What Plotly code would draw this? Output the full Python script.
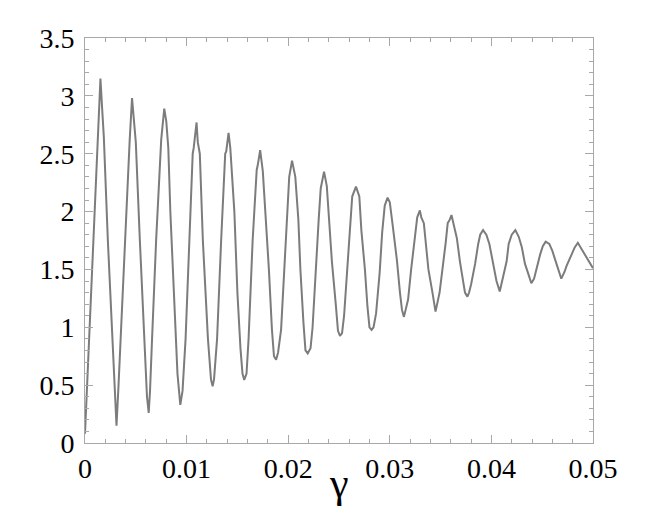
import plotly.graph_objects as go

gamma = [
    0.0, 0.0004, 0.0008, 0.0012, 0.00152,
    0.00168, 0.00185, 0.00225, 0.00268, 0.0029, 0.0031,
    0.0033, 0.0035, 0.0039, 0.0044, 0.00463,
    0.0048, 0.005, 0.0054, 0.0058, 0.0061, 0.00627,
    0.0064, 0.0066, 0.0070, 0.0075, 0.0078,
    0.0080, 0.0082, 0.0084, 0.0087, 0.0091, 0.00938,
    0.0096, 0.0099, 0.0103, 0.0106, 0.0107, 0.01098,
    0.0111, 0.0113, 0.0116, 0.0121, 0.0124, 0.01256,
    0.0127, 0.0130, 0.0134, 0.0138, 0.0139, 0.01413,
    0.0143, 0.0147, 0.0150, 0.0152, 0.0153, 0.0155, 0.01567,
    0.0159, 0.0161, 0.0165, 0.0169, 0.0170, 0.01724,
    0.0175, 0.0177, 0.0181, 0.0184, 0.0186, 0.01881,
    0.0190, 0.0193, 0.0196, 0.0199, 0.0201, 0.02038,
    0.0207, 0.0210, 0.0212, 0.0215, 0.0217, 0.02192,
    0.0222, 0.0224, 0.0227, 0.0230, 0.0232, 0.02353,
    0.0238, 0.0240, 0.0243, 0.0247, 0.0249, 0.0251,
    0.0253, 0.0255, 0.0258, 0.0261, 0.0263, 0.02667,
    0.0270, 0.0272, 0.02755, 0.0278, 0.0280, 0.02821,
    0.0284, 0.02865, 0.0290, 0.02925, 0.0295, 0.02978,
    0.0300, 0.0303, 0.0307, 0.0310, 0.0312, 0.03139,
    0.0316, 0.0318, 0.0321, 0.0325, 0.0327, 0.03296,
    0.0331, 0.03335, 0.03355, 0.0338, 0.0342, 0.0345,
    0.0349, 0.0352, 0.0355, 0.0357, 0.0359, 0.03607,
    0.0363, 0.0366, 0.0369, 0.0372, 0.0374, 0.03764,
    0.0378, 0.0380, 0.0384, 0.0387, 0.0389, 0.03918,
    0.0395, 0.0398, 0.0402, 0.0405, 0.04082,
    0.0411, 0.0415, 0.0417, 0.0420, 0.04236,
    0.0427, 0.0430, 0.0433, 0.0436, 0.04393,
    0.0442, 0.0445, 0.0448, 0.04506, 0.04534,
    0.0457, 0.0460, 0.0464, 0.0467, 0.04688,
    0.0472, 0.0474, 0.0479, 0.0482, 0.04851,
    0.04917, 0.0495, 0.0500,
]

response = [
    0.08, 0.9, 1.75, 2.6, 3.15,
    2.9, 2.65, 1.75, 0.88, 0.45, 0.15,
    0.5, 0.9, 1.75, 2.62, 2.98,
    2.8, 2.6, 1.75, 0.9, 0.4, 0.26,
    0.45, 0.9, 1.75, 2.62, 2.89,
    2.78, 2.55, 2.0, 1.35, 0.6, 0.33,
    0.45, 0.9, 1.75, 2.5, 2.55, 2.77,
    2.6, 2.5, 1.75, 0.9, 0.55, 0.49,
    0.55, 0.9, 1.75, 2.5, 2.52, 2.68,
    2.55, 2.0, 1.3, 0.88, 0.82, 0.6, 0.545,
    0.6, 0.9, 1.75, 2.36, 2.4, 2.53,
    2.35, 2.07, 1.5, 0.98, 0.75, 0.72,
    0.78, 0.98, 1.5, 2.07, 2.3, 2.44,
    2.3, 1.93, 1.5, 1.04, 0.8, 0.775,
    0.82, 1.0, 1.5, 1.93, 2.2, 2.345,
    2.22, 1.93, 1.57, 1.18, 0.97, 0.925,
    0.95, 1.1, 1.5, 1.87, 2.13, 2.215,
    2.13, 1.84, 1.5, 1.18, 1.0, 0.977,
    1.0, 1.12, 1.47, 1.82, 2.05, 2.12,
    2.08, 1.87, 1.58, 1.3, 1.15, 1.09,
    1.18, 1.24, 1.5, 1.82, 1.95, 2.01,
    1.95, 1.9, 1.7, 1.5, 1.3, 1.135,
    1.3, 1.5, 1.73, 1.9, 1.93, 1.97,
    1.88, 1.77, 1.57, 1.4, 1.3, 1.265,
    1.3, 1.37, 1.55, 1.72, 1.8, 1.84,
    1.8, 1.72, 1.55, 1.4, 1.31,
    1.43, 1.57, 1.72, 1.8, 1.84,
    1.78, 1.69, 1.55, 1.47, 1.38,
    1.42, 1.53, 1.63, 1.7, 1.74,
    1.72, 1.66, 1.55, 1.48, 1.42,
    1.48, 1.53, 1.63, 1.69, 1.73,
    1.63, 1.59, 1.51,
]

x_ticks = [0, 0.01, 0.02, 0.03, 0.04, 0.05]
x_labels = ["0", "0.01", "0.02", "0.03", "0.04", "0.05"]
y_ticks = [0, 0.5, 1, 1.5, 2, 2.5, 3, 3.5]
y_labels = ["0", "0.5", "1", "1.5", "2", "2.5", "3", "3.5"]
x_title = "γ"

frame = "#a8a8a8"
font = "Liberation Serif"

fig = go.Figure()
fig.add_trace(go.Scatter(
    x=gamma, y=response, mode="lines",
    line=dict(color="#7c7c7c", width=2),
    showlegend=False,
))

axis_common = dict(
    showline=True, linecolor=frame, linewidth=1, mirror="ticks",
    ticks="inside", ticklen=8, tickcolor=frame, tickwidth=1,
    showgrid=False, zeroline=False,
    tickfont=dict(family=font, size=28, color="black"),
)

fig.update_xaxes(
    range=[0, 0.05], tickvals=x_ticks, ticktext=x_labels,
    minor=dict(dtick=0.002, ticks="inside", ticklen=4, tickcolor=frame, showgrid=False),
    ticklabelstandoff=0,
    **axis_common,
)
fig.update_yaxes(
    range=[0, 3.5], tickvals=y_ticks, ticktext=y_labels,
    minor=dict(dtick=0.1, ticks="inside", ticklen=4, tickcolor=frame, showgrid=False),
    ticklabelstandoff=4,
    **axis_common,
)

fig.add_annotation(
    text=x_title, xref="paper", yref="paper", x=0.5, y=0,
    xanchor="center", yanchor="middle", yshift=-40, showarrow=False,
    font=dict(family=font, size=42, color="black"),
)

fig.update_layout(
    width=654, height=520,
    margin=dict(l=84.5, r=60.5, t=38, b=77, autoexpand=False),
    plot_bgcolor="white", paper_bgcolor="white",
)

fig.write_html("out.html", config={"displayModeBar": False},
               post_script="document.body.style.margin='0';")
